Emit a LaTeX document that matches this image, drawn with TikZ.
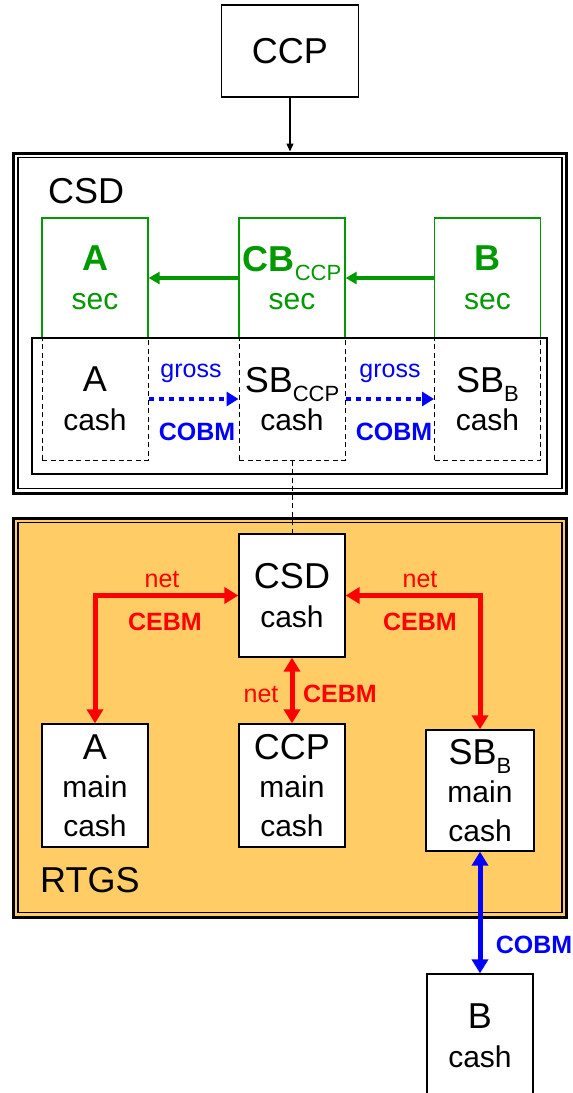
\documentclass[tikz,border=0pt]{standalone}
\usepackage{fontspec}
\setmainfont{Liberation Sans}
\usetikzlibrary{arrows.meta,positioning}
\definecolor{secgreen}{HTML}{009900}
\definecolor{rtgsorange}{HTML}{FFCC66}
\newcommand\firstln[1]{{\fontsize{36}{38.5}\selectfont #1}}
\newcommand\lowsub[1]{\raisebox{-9pt}{\mdseries\fontsize{22}{22}\selectfont #1}}
\tikzset{acct/.style={draw,line width=1.3pt,fill=white,minimum width=106pt,
  minimum height=123pt,inner sep=0pt,align=center,font=\fontsize{30}{38.5}\selectfont},
  secacct/.style={acct,draw=secgreen,text=secgreen,fill=none,minimum height=120pt},
  dashacct/.style={acct,fill=none,line width=1pt,dash pattern=on 5pt off 3.5pt},
  system/.style={draw,line width=3pt,minimum width=553pt,inner sep=0pt},
  title/.style={anchor=base west,inner sep=0pt,font=\fontsize{36}{36}\selectfont},
  lbl/.style={anchor=base,inner sep=0pt,font=\fontsize{25}{25}\selectfont},
  feed/.style={-{Triangle[length=8pt,width=7pt]},line width=1.2pt},
  secmove/.style={-{Triangle[length=11pt,width=12pt]},line width=3.5pt,draw=secgreen},
  gross/.style={-{Triangle[length=12pt,width=14pt]},line width=4.5pt,draw=blue,
    dash pattern=on 5pt off 5pt},
  cebm/.style={{Triangle[length=14pt,width=16pt]}-{Triangle[length=14pt,width=16pt]},
    line width=5pt,draw=red},
  link/.style={line width=1pt,dash pattern=on 5pt off 3.5pt}}

\begin{document}
\begin{tikzpicture}[x=1pt,y=-1pt]
 \useasboundingbox (0,0) rectangle (573,1093);
 \node[acct,minimum width=137pt,minimum height=92pt,font=\fontsize{36}{36}\selectfont] (ccp) at (290,51) {CCP};

 % securities settlement
 \node[system,minimum height=340pt] (csd) at (290,323) {};
 \draw[line width=1.2pt] ([shift={(6,6)}]csd.north west) rectangle ([shift={(-6,-6)}]csd.south east);
 \node[title] (csdname) at (48,203) {CSD};
 \node[secacct] (asec) at (95,278) {\firstln{\bfseries A}\\sec};
 \node[secacct] (cbsec) at (292,278) {\firstln{\bfseries CB\lowsub{CCP}}\\sec};
 \node[secacct] (bsec) at (487.5,278) {\firstln{\bfseries B}\\sec};
 \node[draw,line width=1.3pt,minimum width=515pt,minimum height=136pt] (cashrow) at (289.5,406) {};
 \node[dashacct,minimum height=122pt] (acash) at (95,399) {\firstln{A}\\cash};
 \node[dashacct,minimum height=122pt] (sbcash) at (292,399) {\firstln{SB\lowsub{CCP}}\\cash};
 \node[dashacct,minimum height=122pt] (sbbcash) at (487.5,399) {\firstln{SB\lowsub{B}}\\cash};
 \draw[feed] (ccp)--(csd);
 \draw[secmove] (cbsec)--(asec);\draw[secmove] (bsec)--(cbsec);
 \draw[gross] (acash)--(sbcash);\draw[gross] (sbcash)--(sbbcash);
 \node[lbl,text=blue] (gross1) at (191,377) {gross};
 \node[lbl,text=blue,font=\fontsize{25}{25}\selectfont\bfseries] (cobm1) at (197,440) {COBM};
 \node[lbl,text=blue] (gross2) at (390,377) {gross};
 \node[lbl,text=blue,font=\fontsize{25}{25}\selectfont\bfseries] (cobm2) at (394,440) {COBM};

 % cash settlement
 \node[system,fill=rtgsorange,minimum height=399pt] (rtgs) at (290,717.5) {};
 \draw[line width=1.2pt] ([shift={(6,6)}]rtgs.north west) rectangle ([shift={(-6,-6)}]rtgs.south east);
 \node[title] (rtgsname) at (40,892) {RTGS};
 \node[acct] (csdcash) at (292,595.5) {\firstln{CSD}\\cash};
 \node[acct] (amain) at (95,785.5) {\firstln{A}\\main\\cash};
 \node[acct] (ccpmain) at (292,785.5) {\firstln{CCP}\\main\\cash};
 \node[acct,minimum width=108pt,minimum height=121pt] (sbbmain) at (480,790.5) {\firstln{SB\lowsub{B}}\\main\\cash};
 \node[acct] (bcash) at (480,1035.5) {\firstln{B}\\cash};
 \draw[link] (sbcash)--(csdcash);
 \draw[cebm] (amain.north) |- (csdcash.west);
 \draw[cebm] (sbbmain.north) |- (csdcash.east);
 \draw[cebm] (csdcash)--(ccpmain);
 \draw[cebm,draw=blue] (sbbmain)--(bcash);
 \node[lbl,text=red] (net1) at (162,587) {net};
 \node[lbl,text=red,font=\fontsize{25}{25}\selectfont\bfseries] (cebm1) at (165,630) {CEBM};
 \node[lbl,text=red] (net2) at (420,587) {net};
 \node[lbl,text=red,font=\fontsize{25}{25}\selectfont\bfseries] (cebm2) at (420,630) {CEBM};
 \node[lbl,text=red] (net3) at (261,702) {net};
 \node[lbl,text=red,font=\fontsize{25}{25}\selectfont\bfseries] (cebm3) at (340,702) {CEBM};
 \node[lbl,text=blue,font=\fontsize{25}{25}\selectfont\bfseries] (cobm3) at (534,953) {COBM};
\end{tikzpicture}
\end{document}
